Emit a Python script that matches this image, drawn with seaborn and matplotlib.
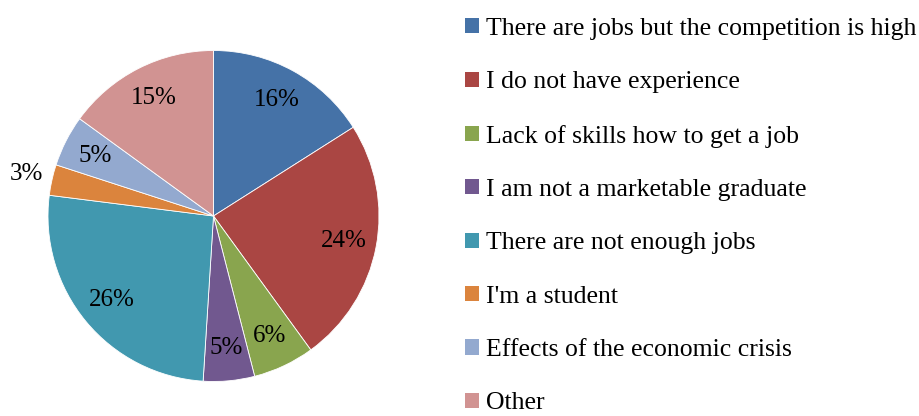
import numpy as np
import matplotlib
matplotlib.use("Agg")
import matplotlib.pyplot as plt
import seaborn as sns
from matplotlib.patches import Patch

# datos
categorias = ['There are jobs but the competition is high',
              'I do not have experience',
              'Lack of skills how to get a job',
              'I am not a marketable graduate',
              'There are not enough jobs',
              "I'm a student",
              'Effects of the economic crisis',
              'Other']
porcentajes = [16, 24, 6, 5, 26, 3, 5, 15]
colores = ['#4572A7', '#AA4643', '#89A54E', '#71588F',
           '#4198AF', '#DB843D', '#93A9CF', '#D19392']

sns.set_style("white")
plt.rcParams['font.family'] = ['Liberation Serif', 'DejaVu Serif']
plt.rcParams['text.color'] = 'black'

W, H = 919, 416
fig = plt.figure(figsize=(W / 100, H / 100), dpi=100)
# eje cuadrado centrado en el pastel
cx, cy, r = 213.5, 216, 165.5
ax = fig.add_axes([(cx - r) / W, (H - cy - r) / H, 2 * r / W, 2 * r / H])

wedges, _ = ax.pie(porcentajes, colors=colores, startangle=90, counterclock=False,
                   radius=1, wedgeprops=dict(edgecolor='white', linewidth=0.6))
ax.set_xlim(-1, 1)
ax.set_ylim(-1, 1)
ax.set_aspect('equal')
ax.axis('off')

# etiquetas de porcentaje
for w, p in zip(wedges, porcentajes):
    ang = np.deg2rad((w.theta1 + w.theta2) / 2)
    d = 1.16 if p < 4 else 0.8
    ax.text(d * np.cos(ang), d * np.sin(ang), f'{p}%', ha='center', va='center',
            fontsize=18, color='black', clip_on=False)

# leyenda
handles = [Patch(facecolor=c, edgecolor='none') for c in colores]
leg = fig.legend(handles, categorias, loc='upper left', bbox_to_anchor=(465 / W, 1 - 18 / H),
                 frameon=False, fontsize=18.5, handlelength=0.53, handleheight=0.53,
                 handletextpad=0.3, labelspacing=1.22, borderpad=0, borderaxespad=0)
for t in leg.get_texts():
    t.set_color('black')

fig.savefig('out.png', dpi=100)
